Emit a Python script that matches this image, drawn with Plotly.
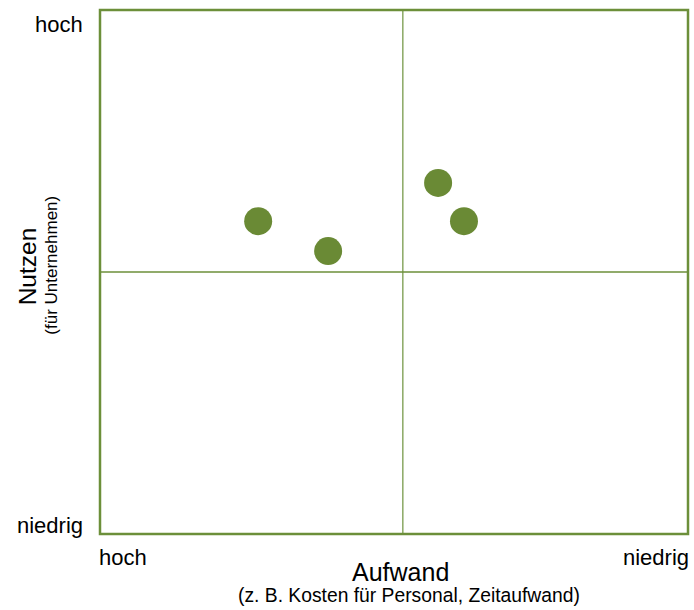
import plotly.graph_objects as go

# Portfolio matrix: effort (x) vs. benefit (y), scale 0..10
x_range = [0, 10]
y_range = [0, 10]
x_divider = 5.15
y_divider = 5.0

effort = [2.69, 3.88, 5.75, 6.19]
benefit = [5.97, 5.40, 6.70, 5.97]

green = "#6a8a35"
line_green = "#6c8f3a"
font_family = "Liberation Sans, Arial, sans-serif"

fig = go.Figure()
fig.add_trace(go.Scatter(
    x=effort, y=benefit, mode="markers",
    marker=dict(size=28, color=green, line=dict(width=0)),
    hoverinfo="skip", showlegend=False,
))

shapes = [
    # quadrant dividers
    dict(type="line", xref="x", yref="paper", x0=x_divider, x1=x_divider, y0=0, y1=1,
         line=dict(color="#8aa863", width=1.5), layer="below"),
    dict(type="line", xref="paper", yref="y", x0=0, x1=1, y0=y_divider, y1=y_divider,
         line=dict(color=line_green, width=1.5), layer="below"),
    # frame
    dict(type="rect", xref="paper", yref="paper", x0=0, x1=1, y0=0, y1=1,
         line=dict(color=line_green, width=2.5), layer="above"),
]

def ann(text, x, y, size, xanchor="center", **kw):
    return dict(text=text, x=x, y=y, xref="paper", yref="paper", showarrow=False,
                font=dict(family=font_family, size=size, color="#000000"),
                xanchor=xanchor, yanchor="middle", **kw)

annotations = [
    ann("hoch", -0.0255, 0.973, 22, xanchor="right"),
    ann("niedrig", -0.0255, 0.017, 22, xanchor="right"),
    ann("hoch", -0.005, -0.045, 22, xanchor="left"),
    ann("niedrig", 1.005, -0.045, 22, xanchor="right"),
    ann("Aufwand", 0.511, -0.073, 25),
    ann("(z. B. Kosten für Personal, Zeitaufwand)", 0.525, -0.118, 19.3),
    ann("Nutzen", -0.124, 0.511, 24.5, textangle=-90),
    ann("(für Unternehmen)", -0.0825, 0.513, 17, textangle=-90),
]

fig.update_layout(
    width=694, height=610,
    margin=dict(l=100, r=6, t=10, b=76),
    paper_bgcolor="white", plot_bgcolor="white",
    xaxis=dict(range=x_range, showgrid=False, zeroline=False, showticklabels=False,
               ticks="", showline=False, fixedrange=True),
    yaxis=dict(range=y_range, showgrid=False, zeroline=False, showticklabels=False,
               ticks="", showline=False, fixedrange=True),
    shapes=shapes,
    annotations=annotations,
)

fig.write_html("out.html")
